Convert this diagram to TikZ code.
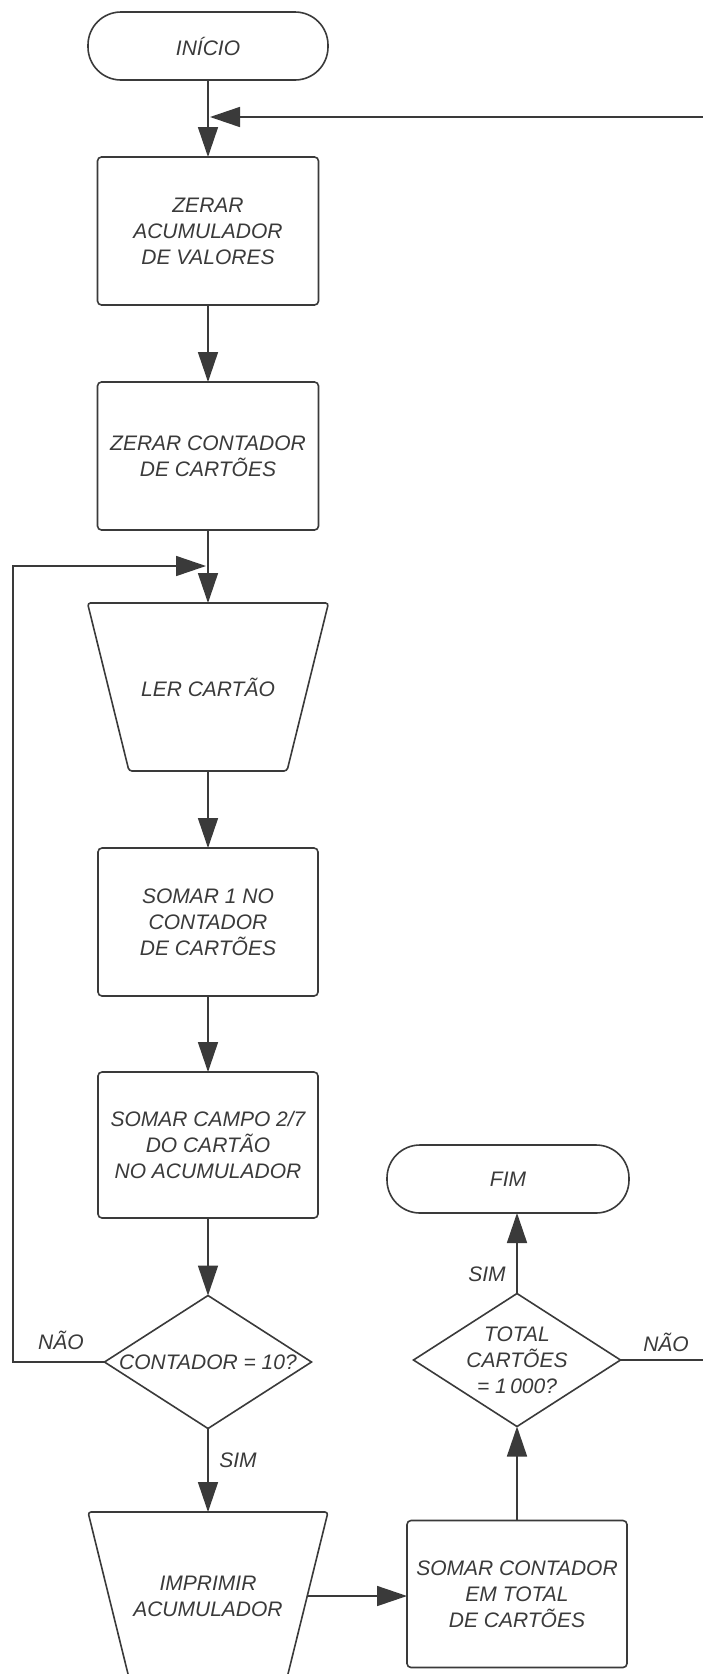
\documentclass[tikz,border=0pt]{standalone}
\usepackage{fontspec}
\setmainfont{Liberation Sans}
\usetikzlibrary{arrows.meta,shapes.geometric}
\definecolor{ink}{HTML}{3A3A3A}
\begin{document}
\begin{tikzpicture}[x=1pt,y=-1pt,
  font=\fontsize{21}{26}\selectfont\itshape,
  every node/.style={text=ink, align=center, inner sep=0pt, outer sep=0pt},
  line/.style={draw=ink, line width=1.6pt},
  arr/.style={line, -{Triangle[length=30pt,width=20pt]}},
  terminal/.style={line, rectangle, rounded corners=33pt, minimum width=240pt, minimum height=68pt},
  proc/.style={line, rectangle, rounded corners=4pt, minimum width=221pt, minimum height=148pt},
  iobox/.style={rectangle, minimum width=241pt, minimum height=168pt},
  iobody/.style={line, rounded corners=3pt},
  decision/.style={line, diamond, minimum width=207pt, minimum height=133pt}
]
\clip (0,0) rectangle (703,1674);
\fill[white] (0,0) rectangle (703,1674);

% main column
\node[terminal] (inicio) at (208,46) {INÍCIO};
\node[proc] (zacum) at (208,231) {ZERAR\\ACUMULADOR\\DE VALORES};
\node[proc] (zcont) at (208,456) {ZERAR CONTADOR\\DE CARTÕES};
\node[iobox] (ler) at (208,687) {LER CARTÃO};
\draw[iobody] (ler.north west) -- (ler.north east) -- ([xshift=-41.5pt]ler.south east)
  -- ([xshift=41.5pt]ler.south west) -- cycle;
\node[proc, minimum width=220pt] (soma1) at (208,922) {SOMAR 1 NO\\CONTADOR\\DE CARTÕES};
\node[proc, minimum width=220pt, minimum height=146pt] (somacampo) at (208,1145)
  {SOMAR CAMPO 2/7\\DO CARTÃO\\NO ACUMULADOR};
\node[decision] (dec1) at (208,1362) {};
\node (dec1txt) at (dec1.center) {CONTADOR = 10?};
\node[iobox, minimum width=240pt] (imp) at (208,1596) {IMPRIMIR\\ACUMULADOR};
\draw[iobody] (imp.north west) -- (imp.north east) -- ([xshift=-41.5pt]imp.south east)
  -- ([xshift=41.5pt]imp.south west) -- cycle;
\coordinate (impE) at ([xshift=-20.75pt]imp.east);

% right column
\node[proc, minimum width=220pt, minimum height=147pt] (somatot) at (517,1594)
  {SOMAR CONTADOR\\EM TOTAL\\DE CARTÕES};
\node[decision] (dec2) at (517,1360) {};
\node (dec2txt) at (dec2.center) {TOTAL\\CARTÕES\\= 1\,000?};
\node[terminal, minimum width=242pt] (fim) at (508,1179) {FIM};

% branch labels
\node (naoL) at (61,1340) {NÃO};
\node (simL) at (238,1460) {SIM};
\node (simR) at (487,1274) {SIM};
\node (naoR) at (666,1342) {NÃO};

% loop ends
\coordinate (topin) at (703,117);
\coordinate (mergeT) at (210,117);
\coordinate (rightout) at (703,1360);
\coordinate (leftx) at (13,566);
\coordinate (mergeL) at (206,566);

% connectors
\draw[arr] (inicio.south) -- (zacum.north);
\draw[arr] (topin) -- (mergeT);
\draw[arr] (zacum.south) -- (zcont.north);
\draw[arr] (zcont.south) -- (ler.north);
\draw[arr] (ler.south) -- (soma1.north);
\draw[arr] (soma1.south) -- (somacampo.north);
\draw[arr] (somacampo.south) -- (dec1.north);
\draw[arr] (dec1.south) -- (imp.north);
\draw[arr] (dec1.west) -- (dec1.west -| leftx) |- (mergeL);
\draw[arr] (impE) -- (impE -| somatot.west);
\draw[arr] (somatot.north) -- (dec2.south);
\draw[arr] (dec2.north) -- (dec2.north |- fim.south);
\draw[line] (dec2.east) -- (rightout);
\end{tikzpicture}
\end{document}
